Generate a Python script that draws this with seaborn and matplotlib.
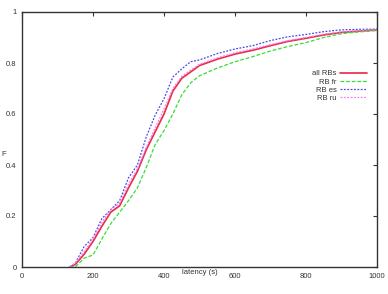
import numpy as np
import pandas as pd
import matplotlib
matplotlib.use("Agg")
import matplotlib.pyplot as plt
import seaborn as sns

latency = [135, 150, 175, 200, 225, 250, 275, 300, 325, 350, 375, 400, 425,
           450, 475, 500, 550, 600, 650, 700, 750, 800, 850, 900, 950, 1000]
all_rbs = [0, 0.01, 0.05, 0.10, 0.16, 0.215, 0.24, 0.31, 0.375, 0.46, 0.53, 0.60, 0.69,
           0.74, 0.765, 0.79, 0.815, 0.835, 0.85, 0.868, 0.885, 0.897, 0.91, 0.92, 0.925, 0.93]
rb_fr = [0, 0.0, 0.035, 0.047, 0.11, 0.17, 0.215, 0.26, 0.31, 0.39, 0.48, 0.535, 0.60,
         0.675, 0.722, 0.75, 0.78, 0.805, 0.825, 0.847, 0.865, 0.88, 0.90, 0.915, 0.922, 0.927]
rb_es = [0, 0.015, 0.08, 0.115, 0.19, 0.225, 0.26, 0.35, 0.40, 0.51, 0.595, 0.66, 0.745,
         0.777, 0.805, 0.812, 0.837, 0.855, 0.868, 0.888, 0.903, 0.912, 0.923, 0.93, 0.932, 0.933]
rb_ru = [0, 0.015, 0.06, 0.11, 0.175, 0.225, 0.25, 0.325, 0.385, 0.47, 0.545, 0.62, 0.70,
         0.748, 0.772, 0.795, 0.82, 0.84, 0.855, 0.872, 0.888, 0.90, 0.913, 0.922, 0.927, 0.931]

series_names = ["all RBs", "RB fr", "RB es", "RB ru"]
series_vals = [all_rbs, rb_fr, rb_es, rb_ru]
colors = ["#e8304a", "#33e033", "#4a4ae8", "#f080f0"]
dashes = [(None, None), (3, 1.5), (1.5, 1.2), (1.5, 1.2)]
widths = [1.25, 0.9, 0.9, 0.9]

df = pd.concat([pd.DataFrame({"latency": latency, "F": v, "series": n})
                for n, v in zip(series_names, series_vals)], ignore_index=True)

sns.set_style("white")
plt.rcParams['font.family'] = ['Liberation Sans', 'DejaVu Sans']

fig = plt.figure(figsize=(3.88, 2.94), dpi=100)
ax = fig.add_axes([22/388, 27/294, 355/388, 255/294])

for n, c, d, w in zip(series_names, colors, dashes, widths):
    sub = df[df["series"] == n]
    sns.lineplot(data=sub, x="latency", y="F", ax=ax, color=c, lw=w, label=n)
    line = ax.lines[-1]
    if d[0] is not None:
        line.set_dashes(d)

ax.set_xlim(0, 1000)
ax.set_ylim(0, 1)
ax.set_xticks([0, 200, 400, 600, 800, 1000])
ax.set_yticks([0, 0.2, 0.4, 0.6, 0.8, 1])
ax.set_yticklabels(["0", "0.2", "0.4", "0.6", "0.8", "1"])
ax.tick_params(direction="in", length=3, width=0.8, top=True, right=True,
               labelsize=5.5, colors="#333333", pad=4)
for s in ax.spines.values():
    s.set_color("#333333")
    s.set_linewidth(1.0)
ax.set_xlabel("latency (s)", fontsize=5.5, color="#333333", labelpad=-7.5)
ax.set_ylabel("")
fig.text(1/388, 139/294, "F", fontsize=5.5, color="#333333", ha="left", va="center")

leg = ax.legend(loc="upper right", bbox_to_anchor=(0.972, 0.772), frameon=False,
                markerfirst=False, fontsize=5.5, handlelength=3.6, handletextpad=0.4,
                labelspacing=0.1, borderpad=0, borderaxespad=0)
for t in leg.get_texts():
    t.set_color("#333333")

fig.savefig("out.png", dpi=100)
